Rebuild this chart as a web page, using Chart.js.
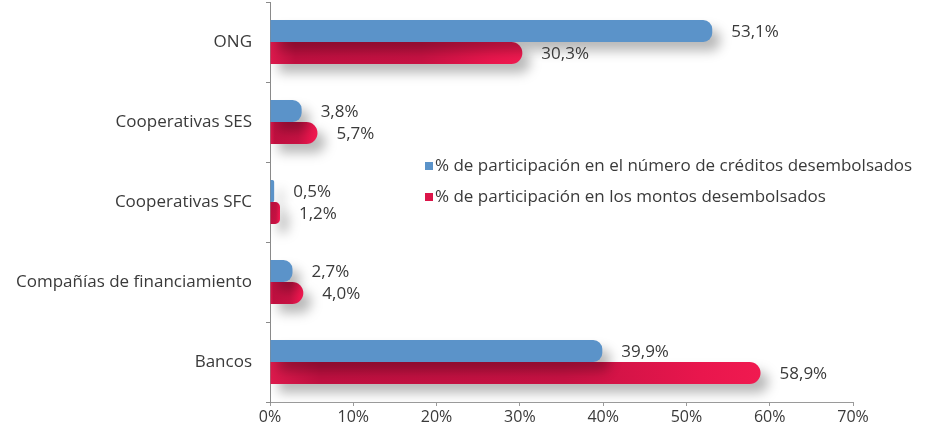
<!DOCTYPE html>
<html>
<head>
<meta charset="utf-8">
<script src="https://cdn.jsdelivr.net/npm/chart.js@4.4.1/dist/chart.umd.min.js"></script>
<style>
    html, body { margin: 0; padding: 0; background: #fff; }
    #wrap { width: 929px; height: 426px; }
</style>
</head>
<body>
<div id="wrap"><canvas id="myChart"></canvas></div>
<script>
    // data
    var categories = ["ONG", "Cooperativas SES", "Cooperativas SFC", "Compañías de financiamiento", "Bancos"];
    var seriesNames = ["% de participación en el número de créditos desembolsados", "% de participación en los montos desembolsados"];
    var numCreditos = [53.1, 3.8, 0.5, 2.7, 39.9];
    var montos = [30.3, 5.7, 1.2, 4.0, 58.9];
    var xTicks = [0, 10, 20, 30, 40, 50, 60, 70];

    var blue = '#5b93c9';
    var red = '#dc1549';
    var textColor = '#3a3a3a';
    var fontFamily = "'Open Sans', sans-serif";

    function fmt(v) {
        return v.toFixed(1).replace('.', ',') + '%';
    }

    // red bars: darker body, bright cap
    function redFill(context) {
        var chart = context.chart;
        if (!chart.chartArea || context.dataIndex === undefined) return red;
        var xs = chart.scales.x;
        var x0 = xs.getPixelForValue(0);
        var x1 = xs.getPixelForValue(context.dataset.data[context.dataIndex]);
        if (x1 - x0 < 2) return red;
        var g = chart.ctx.createLinearGradient(x0, 0, x1, 0);
        g.addColorStop(0, '#dd1a4d');
        g.addColorStop(0.1, '#bf1040');
        g.addColorStop(0.6, '#c71243');
        g.addColorStop(0.88, '#e9164d');
        g.addColorStop(1, '#f01a50');
        return g;
    }

    // shadow under the bars
    var shadowPlugin = {
        id: 'barShadow',
        beforeDatasetsDraw: function (chart) {
            var c = chart.ctx;
            c.save();
            c.shadowColor = 'rgba(0,0,0,0.28)';
            c.shadowBlur = 12;
            c.shadowOffsetX = 8;
            c.shadowOffsetY = 9;
        },
        afterDatasetsDraw: function (chart) {
            chart.ctx.restore();
        }
    };

    // value labels at the end of each bar
    var valueLabels = {
        id: 'valueLabels',
        afterDatasetsDraw: function (chart) {
            var c = chart.ctx;
            c.save();
            c.font = '17px ' + fontFamily;
            c.fillStyle = textColor;
            c.textBaseline = 'middle';
            c.textAlign = 'left';
            chart.data.datasets.forEach(function (ds, i) {
                var meta = chart.getDatasetMeta(i);
                meta.data.forEach(function (bar, j) {
                    c.fillText(fmt(ds.data[j]), bar.x + 19, bar.y + 1);
                });
            });
            c.restore();
        }
    };

    // legend drawn inside the plot
    var innerLegend = {
        id: 'innerLegend',
        afterDraw: function (chart) {
            var c = chart.ctx;
            c.save();
            c.font = '17px ' + fontFamily;
            c.textBaseline = 'middle';
            var colors = [blue, red];
            chart.data.datasets.forEach(function (ds, i) {
                var y = 166 + i * 31;
                c.fillStyle = colors[i];
                c.fillRect(425, y - 4, 8, 8);
                c.fillStyle = textColor;
                c.fillText(ds.label, 435, y);
            });
            c.restore();
        }
    };

    const ctx = document.getElementById('myChart');
    new Chart(ctx, {
        type: 'bar',
        data: {
            labels: categories,
            datasets: [{
                label: seriesNames[0],
                data: numCreditos,
                backgroundColor: blue,
                borderRadius: { topRight: 9, bottomRight: 9 },
                borderSkipped: 'start',
                categoryPercentage: 0.55,
                barPercentage: 1.0
            }, {
                label: seriesNames[1],
                data: montos,
                backgroundColor: redFill,
                borderRadius: { topRight: 11, bottomRight: 11 },
                borderSkipped: 'start',
                categoryPercentage: 0.55,
                barPercentage: 1.0
            }]
        },
        options: {
            indexAxis: 'y',
            responsive: true,
            maintainAspectRatio: false,
            animation: false,
            layout: { autoPadding: false, padding: { top: 2, right: 76, left: 0, bottom: 0 } },
            plugins: {
                legend: { display: false },
                tooltip: { enabled: false }
            },
            scales: {
                x: {
                    min: 0,
                    max: 70,
                    afterBuildTicks: function (axis) {
                        axis.ticks = xTicks.map(function (v) { return { value: v }; });
                    },
                    afterFit: function (axis) {
                        axis.height = 24;
                        axis.paddingLeft = 0;
                        axis.paddingRight = 0;
                    },
                    ticks: {
                        color: textColor,
                        font: { family: fontFamily, size: 16 },
                        padding: 2,
                        callback: function (v) { return v + '%'; }
                    },
                    grid: { drawOnChartArea: false, color: '#9a9a9a', tickLength: 4 },
                    border: { color: '#9a9a9a' }
                },
                y: {
                    afterFit: function (axis) {
                        axis.width = 270;
                        axis.paddingTop = 0;
                        axis.paddingBottom = 0;
                    },
                    ticks: {
                        color: textColor,
                        font: { family: fontFamily, size: 17 },
                        padding: 14
                    },
                    grid: { drawOnChartArea: false, color: '#8a8a8a', tickLength: 4 },
                    border: { color: '#8a8a8a' }
                }
            }
        },
        plugins: [shadowPlugin, valueLabels, innerLegend]
    });
</script>
</body>
</html>
